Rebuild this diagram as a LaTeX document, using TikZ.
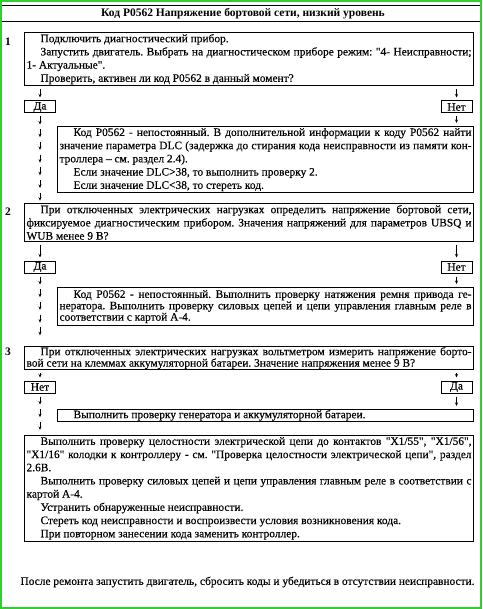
\documentclass[tikz,border=0pt]{standalone}
\usepackage{fontspec}
\setmainfont{Liberation Serif}[UprightFeatures={FakeBold=0.3}]
\usetikzlibrary{arrows.meta,decorations.markings}
\definecolor{framegreen}{RGB}{51,204,51}
\newcommand{\bodyfont}{\fontsize{11.4}{13.2}\selectfont}
\newcommand{\tightfont}{\fontsize{11.4}{11.4}\selectfont}
\newcommand{\indt}{\hspace*{14pt}}
\newcommand{\dq}{\textquotedbl}
\frenchspacing
\tikzset{
  textbox/.style={draw, line width=1.1pt, anchor=north west, inner xsep=2pt,
    inner ysep=1.5pt, align=justify, font=\bodyfont},
  answer/.style={draw, line width=1pt, minimum width=31pt, minimum height=12pt,
    inner sep=0pt, font=\bodyfont},
  stepno/.style={font=\bodyfont\bfseries},
  downarr/.style={line width=0.6pt, -{Stealth[length=3.5pt,width=3pt]},
    shorten <=3pt, shorten >=3pt},
  arrowchain/.style={decorate, decoration={markings,
    mark=between positions 3pt and -8pt step 12.7pt with
      {\draw[line width=0.6pt, -{Stealth[length=3.5pt,width=3pt]}] (0pt,0pt) -- (8pt,0pt);}}}
}
\begin{document}
\begin{tikzpicture}[x=1pt,y=-1pt]
\useasboundingbox (0,0) rectangle (482,609);
% Frame
\draw[framegreen, line width=2pt] (1,1) rectangle (481,608);
% Header
\draw[line width=0.8pt] (2,5) -- (480,5);
\draw[line width=0.8pt] (2,21) -- (480,21);
\node[font=\fontsize{11.5}{13}\selectfont\bfseries] (title) at (243,13.5)
  {Код P0562 Напряжение бортовой сети, низкий уровень};

% Step 1
\node[stepno] (n1) at (8,42) {1};
\node[textbox, text width=445pt] (b1) at (24,32) {%
  \indt Подключить диагностический прибор.\par
  \indt Запустить двигатель. Выбрать на диагностическом приборе режим: \dq 4- Неисправности;\linebreak
  1- Актуальные\dq.\par
  \indt Проверить, активен ли код P0562 в данный момент?};
\node[answer] (da1) at (40,107) {Да};
\node[answer] (net1) at (456.5,107) {Нет};
\node[textbox, text width=412pt] (b1n) at (57,126) {%
  \indt Код P0562 - непостоянный. В дополнительной информации к коду P0562 найти\linebreak
  значение параметра DLC (задержка до стирания кода неисправности из памяти кон-\linebreak
  троллера – см. раздел 2.4).\par
  \indt Если значение DLC>38, то выполнить проверку 2.\par
  \indt Если значение DLC<38, то стереть код.};
\draw[downarr] (b1.south -| da1) -- (da1.north);
\draw[downarr] (b1.south -| net1) -- (net1.north);
\draw[downarr] (net1.south) -- (net1.south |- b1n.north);

% Step 2
\node[stepno] (n2) at (8,212) {2};
\node[textbox, text width=445pt] (b2) at (24,203) {%
  \indt При отключенных электрических нагрузках определить напряжение бортовой сети,\linebreak
  фиксируемое диагностическим прибором. Значения напряжений для параметров UBSQ и\linebreak
  WUB менее 9 В?};
\node[answer] (da2) at (40,267) {Да};
\node[answer] (net2) at (456.5,267) {Нет};
\node[textbox, text width=412pt, font=\tightfont, inner ysep=2.5pt] (b2n) at (57,287) {%
  \indt Код P0562 - непостоянный. Выполнить проверку натяжения ремня привода ге-\linebreak
  нератора. Выполнить проверку силовых цепей и цепи управления главным реле в\linebreak
  соответствии с картой А-4.};
\draw[downarr] (b2.south -| da2) -- (da2.north);
\draw[downarr] (b2.south -| net2) -- (net2.north);
\draw[downarr] (net2.south) -- (net2.south |- b2n.north);
\path[arrowchain] (da1.south) -- (da1.south |- b2.north);

% Step 3
\node[stepno] (n3) at (8,352) {3};
\node[textbox, text width=445pt, font=\tightfont, inner ysep=0.5pt] (b3) at (24,346) {%
  \indt При отключенных электрических нагрузках вольтметром измерить напряжение борто-\linebreak
  вой сети на клеммах аккумуляторной батареи. Значение напряжения менее 9 В?};
\node[answer] (net3) at (40,387) {Нет};
\node[answer] (da3) at (456.5,387) {Да};
\node[textbox, text width=412pt, inner ysep=0.5pt] (b3d) at (57,409) {%
  \indt Выполнить проверку генератора и аккумуляторной батареи.};
\draw[downarr] (b3.south -| net3) -- (net3.north);
\draw[downarr] (b3.south -| da3) -- (da3.north);
\draw[downarr] (da3.south) -- (da3.south |- b3d.north);
\path[arrowchain] (da2.south) -- (da2.south |- b3.north);

% Step 4
\node[textbox, text width=445pt] (b4) at (24,435) {%
  \indt Выполнить проверку целостности электрической цепи до контактов \dq X1/55\dq, \dq X1/56\dq,\linebreak
  \dq X1/16\dq{} колодки к контроллеру - см. \dq Проверка целостности электрической цепи\dq, раздел\linebreak
  2.6В.\par
  \indt Выполнить проверку силовых цепей и цепи управления главным реле в соответствии с\linebreak
  картой А-4.\par
  \indt Устранить обнаруженные неисправности.\par
  \indt Стереть код неисправности и воспроизвести условия возникновения кода.\par
  \indt При повторном занесении кода заменить контроллер.};
\path[arrowchain] (net3.south) -- (net3.south |- b4.north);

% After repair
\node[font=\bodyfont] (afterrepair) at (247.5,582)
  {После ремонта запустить двигатель, сбросить коды и убедиться в отсутствии неисправности.};
\end{tikzpicture}
\end{document}
